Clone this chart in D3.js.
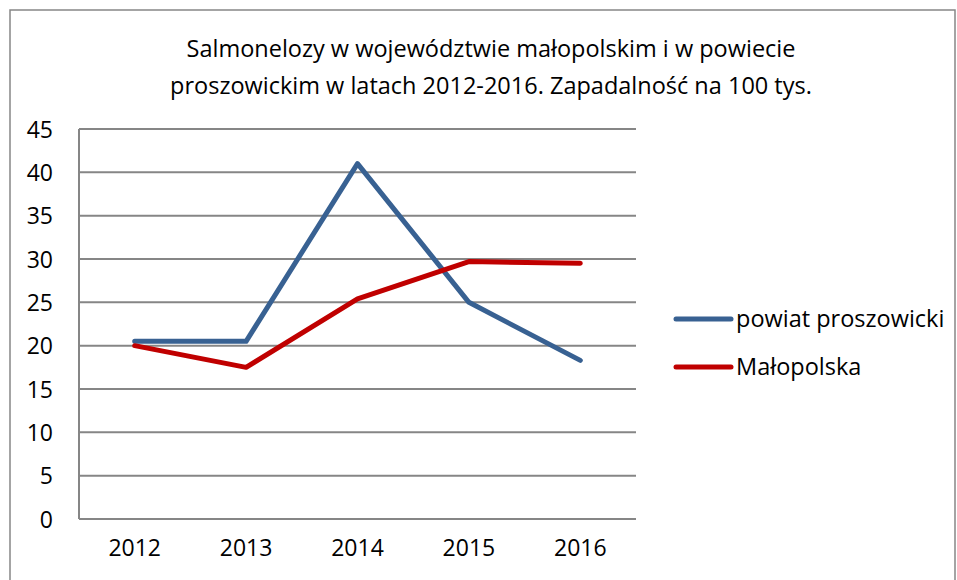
<!DOCTYPE html>
<html lang="pl">
  <head>
    <meta charset="UTF-8" />
    <title>Salmonelozy</title>
    <script src="https://d3js.org/d3.v7.min.js"></script>
    <style>
      body {
        margin: 0;
        background: #ffffff;
        font-family: "Open Sans", sans-serif;
      }
      svg text {
        fill: #000;
      }
    </style>
  </head>
  <body>
    <svg id="chart" width="957" height="580"></svg>

    <script>
      const years = ["2012", "2013", "2014", "2015", "2016"];
      const powiat = [20.5, 20.5, 41, 25, 18.3];
      const malopolska = [20, 17.5, 25.4, 29.7, 29.5];
      const yTicks = [0, 5, 10, 15, 20, 25, 30, 35, 40, 45];
      const seriesNames = ["powiat proszowicki", "Małopolska"];
      const seriesColors = ["#386192", "#C00000"];
      const titleLines = [
        "Salmonelozy w województwie małopolskim i w powiecie",
        "proszowickim w latach 2012-2016. Zapadalność na 100 tys.",
      ];

      const svg = d3.select("#chart");
      const margin = {left: 79, right: 321, top: 129, bottom: 61};
      const width = 957 - margin.left - margin.right;
      const height = 580 - margin.top - margin.bottom;

      // outer frame
      svg.append("rect")
        .attr("x", 10).attr("y", 10)
        .attr("width", 945).attr("height", 600)
        .attr("fill", "none").attr("stroke", "#868686").attr("stroke-width", 1.5);

      svg.append("g")
        .selectAll("text")
        .data(titleLines)
        .join("text")
        .attr("x", 491)
        .attr("y", (d, i) => 57 + i * 37)
        .attr("text-anchor", "middle")
        .attr("font-size", 23.5)
        .text((d) => d);

      const g = svg.append("g").attr("transform", `translate(${margin.left},${margin.top})`);

      const x = d3.scaleBand().domain(years).range([0, width]);
      const y = d3.scaleLinear().domain([0, 45]).range([height, 0]);

      // gridlines
      g.append("g")
        .selectAll("line")
        .data(yTicks)
        .join("line")
        .attr("x1", 0).attr("x2", width)
        .attr("y1", (d) => y(d)).attr("y2", (d) => y(d))
        .attr("stroke", "#868686").attr("stroke-width", 2);

      g.append("line")
        .attr("x1", 0).attr("x2", 0).attr("y1", 0).attr("y2", height)
        .attr("stroke", "#868686").attr("stroke-width", 2);

      const yAxis = g.append("g").call(d3.axisLeft(y).tickValues(yTicks).tickSize(0).tickPadding(26));
      yAxis.select(".domain").remove();
      yAxis.selectAll("text").attr("font-size", 23).attr("font-family", "Open Sans").attr("dy", "0.35em");

      const xAxis = g.append("g")
        .attr("transform", `translate(0,${height})`)
        .call(d3.axisBottom(x).tickSize(0).tickPadding(21));
      xAxis.select(".domain").remove();
      xAxis.selectAll("text").attr("font-size", 23).attr("font-family", "Open Sans");

      const line = d3.line()
        .x((d, i) => x(years[i]) + x.bandwidth() / 2)
        .y((d) => y(d));

      [powiat, malopolska].forEach((s, i) => {
        g.append("path")
          .datum(s)
          .attr("d", line)
          .attr("fill", "none")
          .attr("stroke", seriesColors[i])
          .attr("stroke-width", 5)
          .attr("stroke-linecap", "round")
          .attr("stroke-linejoin", "round");
      });

      // legend
      const legend = svg.append("g")
        .selectAll("g")
        .data(seriesNames)
        .join("g")
        .attr("transform", (d, i) => `translate(676,${319 + i * 48})`);
      legend.append("line")
        .attr("x1", 0).attr("x2", 55)
        .attr("stroke", (d, i) => seriesColors[i])
        .attr("stroke-width", 5)
        .attr("stroke-linecap", "round");
      legend.append("text")
        .attr("x", 60)
        .attr("dy", "0.35em")
        .attr("font-size", 23.5)
        .text((d) => d);
    </script>
  </body>
</html>
